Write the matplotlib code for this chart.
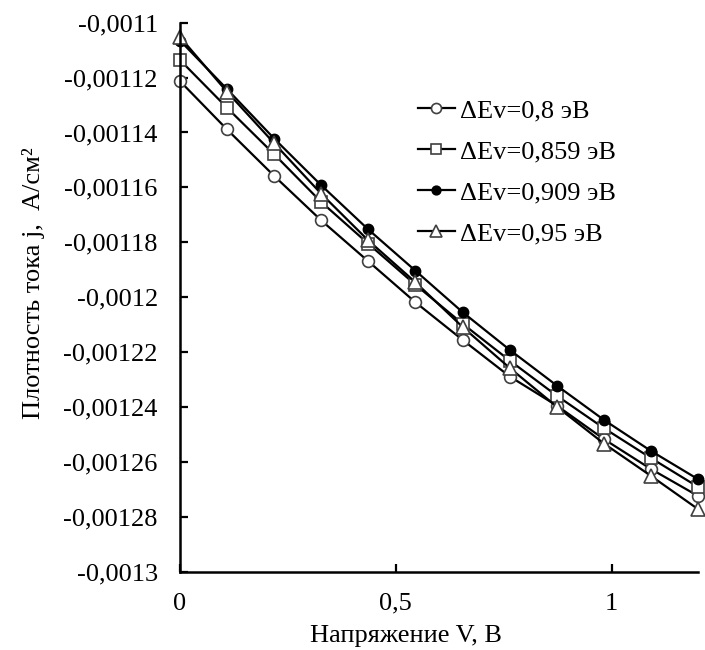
import matplotlib
matplotlib.use("Agg")
import matplotlib.pyplot as plt
from matplotlib.ticker import FixedLocator, FixedFormatter

plt.rcParams['font.family'] = ['Liberation Serif', 'DejaVu Serif']

voltage = [0.0, 0.109, 0.218, 0.327, 0.436, 0.545, 0.655, 0.764, 0.873, 0.982, 1.091, 1.2]

j_080 = [-0.0011213, -0.0011389, -0.0011558, -0.0011720, -0.0011869, -0.0012018,
         -0.0012156, -0.0012289, -0.0012395, -0.0012517, -0.0012626, -0.0012724]
j_0859 = [-0.0011136, -0.0011310, -0.0011479, -0.0011653, -0.0011805, -0.0011954,
          -0.0012097, -0.0012231, -0.0012359, -0.0012477, -0.0012586, -0.0012691]
j_0909 = [-0.0011065, -0.0011242, -0.0011422, -0.0011592, -0.0011753, -0.0011903,
          -0.0012055, -0.0012192, -0.0012322, -0.0012447, -0.0012560, -0.0012663]
j_095 = [-0.0011052, -0.0011252, -0.0011439, -0.0011623, -0.0011793, -0.0011945,
         -0.0012109, -0.0012258, -0.0012399, -0.0012533, -0.0012651, -0.0012772]

labels = ["ΔEv=0,8 эВ", "ΔEv=0,859 эВ", "ΔEv=0,909 эВ", "ΔEv=0,95 эВ"]

y_ticks = [-0.0013, -0.00128, -0.00126, -0.00124, -0.00122, -0.0012,
           -0.00118, -0.00116, -0.00114, -0.00112, -0.0011]
y_tick_labels = ["-0,0013", "-0,00128", "-0,00126", "-0,00124", "-0,00122", "-0,0012",
                 "-0,00118", "-0,00116", "-0,00114", "-0,00112", "-0,0011"]
x_ticks = [0, 0.5, 1]
x_tick_labels = ["0", "0,5", "1"]

fig = plt.figure(figsize=(7.05, 6.5), dpi=100)
ax = fig.add_axes([180/705, 1-571.7/650, (698-180)/705, (571.7-22.7)/650])

edge = '#404040'
common = dict(color='black', linewidth=1.6, clip_on=False)
ax.plot(voltage, j_080, marker='o', markersize=8.5, markerfacecolor='white',
        markeredgecolor=edge, markeredgewidth=1.2, label=labels[0], **common)
ax.plot(voltage, j_0859, marker='s', markersize=8.5, markerfacecolor='white',
        markeredgecolor=edge, markeredgewidth=1.2, label=labels[1], **common)
ax.plot(voltage, j_0909, marker='o', markersize=7.5, markerfacecolor='black',
        markeredgecolor='black', markeredgewidth=1.0, label=labels[2], **common)
ax.plot(voltage, j_095, marker='^', markersize=10, markerfacecolor='white',
        markeredgecolor=edge, markeredgewidth=1.2, label=labels[3], **common)

ax.set_xlim(0, 1.2)
ax.set_ylim(-0.0013, -0.0011)
ax.xaxis.set_major_locator(FixedLocator(x_ticks))
ax.xaxis.set_major_formatter(FixedFormatter(x_tick_labels))
ax.yaxis.set_major_locator(FixedLocator(y_ticks))
ax.yaxis.set_major_formatter(FixedFormatter(y_tick_labels))

for s in ['top', 'right']:
    ax.spines[s].set_visible(False)
for s in ['left', 'bottom']:
    ax.spines[s].set_linewidth(1.8)

ax.tick_params(axis='both', direction='in', length=6, width=1.6, labelsize=19)
ax.tick_params(axis='y', pad=16)
ax.tick_params(axis='x', pad=15)

ax.set_xlabel("Напряжение V, В", fontsize=19)
ax.xaxis.set_label_coords(0.436, -0.097)
ax.set_ylabel("Плотность тока j,  А/см²", fontsize=19)
ax.yaxis.set_label_coords(-0.26, 0.526)

leg = ax.legend(loc='upper left', bbox_to_anchor=(418/705, 1-99/650),
                bbox_transform=fig.transFigure, frameon=False, fontsize=19,
                handlelength=1.4, handletextpad=0.2, labelspacing=0.66,
                borderpad=0, borderaxespad=0, markerscale=0.85)

fig.savefig("out.png", dpi=100)
